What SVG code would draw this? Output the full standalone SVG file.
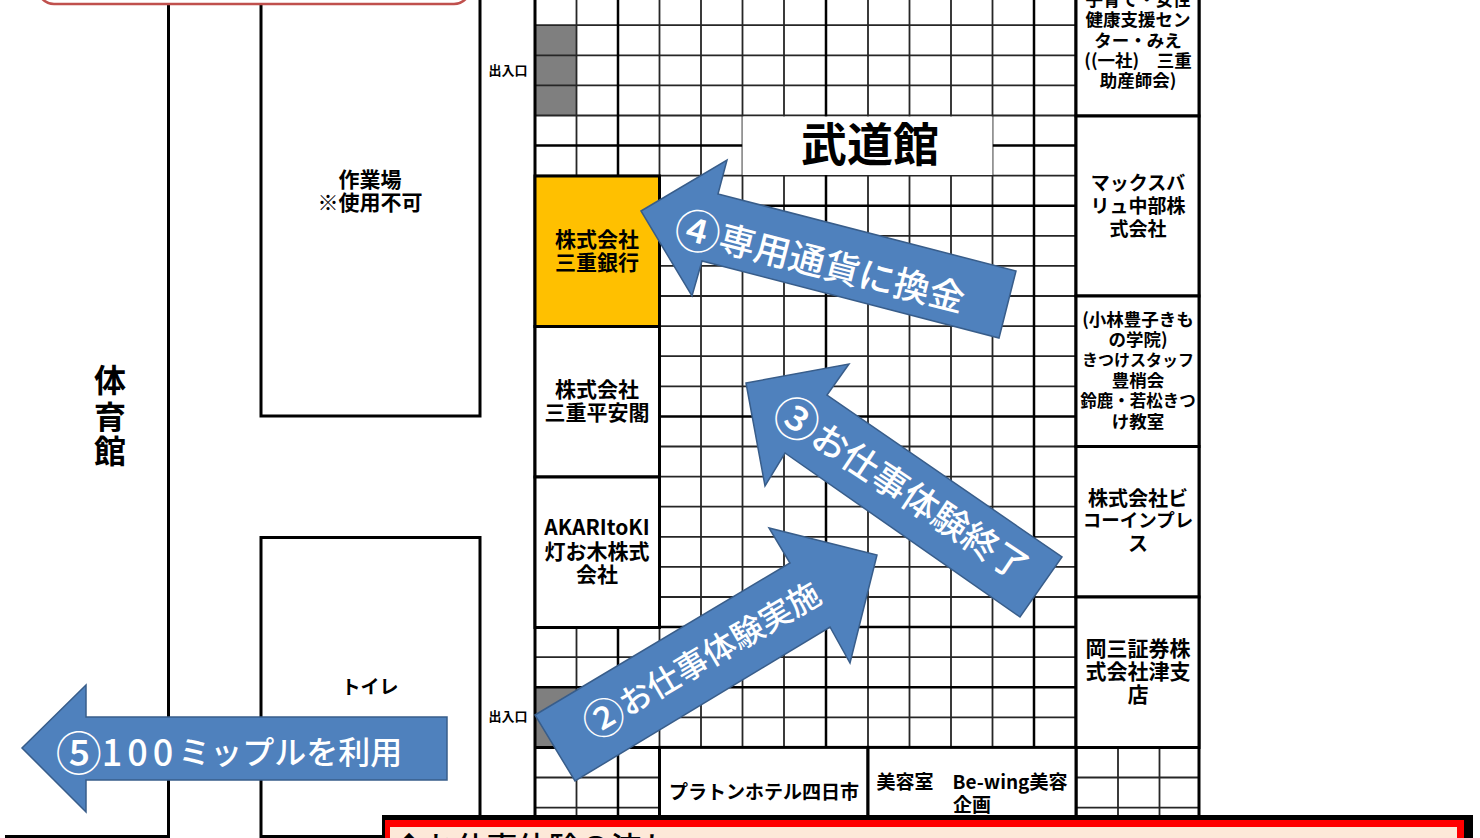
<svg xmlns="http://www.w3.org/2000/svg" width="1480" height="838" viewBox="0 0 1480 838">
<style>
text{font-family:"Noto Sans CJK JP","Liberation Sans",sans-serif;text-anchor:middle;dominant-baseline:central;fill:#000;font-weight:700}
.thin{fill:none;stroke:#262626;stroke-width:1.800}
.thick{fill:none;stroke:#000;stroke-width:3}
.box{fill:#fff;stroke:#000;stroke-width:3}
.gray{fill:#7f7f7f}
.arrow{fill:#4f81bd;stroke:#385d8a;stroke-width:1.500;stroke-linejoin:miter}
.al{fill:#fff;font-weight:500}
.s21{font-size:21px}
.s20{font-size:20px}
.s18{font-size:17.500px}
.s13{font-size:13px}
</style>
<rect width="1480" height="838" fill="#fff"/>
<g id="building-left">
<path class="thick" d="M168.500 0V836.500H5M261 0V416H480V0M261 838V537.500H480V815M261 836.500H383"/>
<rect x="38" y="-40" width="432" height="44" rx="16" fill="#fff" stroke="#c0504d" stroke-width="2.500"/>
</g>
<g id="grid">
<rect class="gray" x="535" y="25" width="41.500" height="90"/>
<rect class="gray" x="535" y="687" width="41.500" height="60"/>
<path class="thin" d="M576.500 0V815M659.500 0V747M701 0V747M742.500 0V747M784 0V747M868 0V747M909.500 0V747M951 0V747M992.500 0V747M1118 747V815M1159.500 747V815"/>
<path class="thin" d="M535 25.200H1076M535 55.300H1076M535 85.400H1076M535 115.500H1076M535 175.600H1076M535 235.800H1076M535 265.900H1076M535 296H1076M535 326.100H1076M535 356.200H1076M535 386.300H1076M535 446.500H1076M535 476.600H1076M535 506.700H1076M535 536.800H1076M535 566.900H1076M535 597H1076M535 657.200H1076M535 717.400H1076M535 777.500H659M535 807.700H659M1076 777.500H1199M1076 807.700H1199"/>
<path class="thick" style="stroke-width:2.500" d="M618 0V815M826 0V747M1034 0V747M535 145.500H1076M535 205.700H1076M535 416.400H1076M535 627.100H1076M535 687.300H1076"/>
<path class="thick" d="M535 0V815M1076 0V815M1199 0V815M535 747.400H1199"/>
</g>
<g id="budokan"><rect x="742.500" y="116.500" width="250" height="58.500" fill="#fff"/><text x="870" y="141" font-size="46">武道館</text></g>
<g id="gym"><text x="110" y="378" font-size="32">体</text><text x="110" y="415" font-size="32">育</text><text x="110" y="449" font-size="32">館</text></g>
<g id="workshop"><text class="s21" x="370" y="178">作業場</text><text class="s21" x="370" y="201">※使用不可</text></g>
<g id="toilet"><text x="370" y="685" font-size="19">トイレ</text></g>
<g id="entrance-upper"><text class="s13" x="508" y="69">出入口</text></g>
<g id="entrance-lower"><text class="s13" x="508" y="715">出入口</text></g>
<g id="bank"><rect x="535" y="176" width="124.500" height="150.500" fill="#ffc000" stroke="#000" stroke-width="3"/><text class="s21" x="597" y="238">株式会社</text><text class="s21" x="597" y="261">三重銀行</text></g>
<g id="heiankaku"><rect class="box" x="535" y="326.500" width="124.500" height="150.500"/><text class="s21" x="597" y="388">株式会社</text><text class="s21" x="597" y="411">三重平安閣</text></g>
<g id="akaritoki"><rect class="box" x="535" y="477" width="124.500" height="150.500"/><text class="s21" x="597" y="526">AKARItoKI</text><text class="s21" x="597" y="550">灯お木株式</text><text class="s21" x="597" y="573">会社</text></g>
<g id="platon"><rect class="box" x="659.500" y="747.400" width="208.500" height="70"/><text x="764" y="790" font-size="19">プラトンホテル四日市</text></g>
<g id="bewing"><rect class="box" x="868" y="747.400" width="208" height="70"/><text x="972" y="780" font-size="19">美容室　Be-wing美容</text><text x="972" y="803" font-size="19">企画</text></g>
<g id="mie-center"><rect class="box" x="1076" y="-30" width="123" height="146"/><text class="s18" x="1138" y="-2">子育て・女性</text><text class="s18" x="1138" y="18">健康支援セン</text><text class="s18" x="1138" y="39">ター・みえ</text><text class="s18" x="1138" y="59">((一社)　三重</text><text class="s18" x="1138" y="79">助産師会)</text></g>
<g id="maxvalu"><rect class="box" x="1076" y="116" width="123" height="180"/><text x="1138" y="181" font-size="19">マックスバ</text><text x="1138" y="204" font-size="19">リュ中部株</text><text x="1138" y="227" font-size="19">式会社</text></g>
<g id="kobayashi"><rect class="box" x="1076" y="296" width="123" height="150.500"/><text class="s18" x="1138" y="318">(小林豊子きも</text><text class="s18" x="1138" y="338">の学院)</text><text x="1138" y="359" font-size="16">きつけスタッフ</text><text class="s18" x="1138" y="379">豊梢会</text><text x="1138" y="400" font-size="16.500">鈴鹿・若松きつ</text><text class="s18" x="1138" y="420">け教室</text></g>
<g id="bcom"><rect class="box" x="1076" y="446.500" width="123" height="150.500"/><text class="s20" x="1138" y="497">株式会社ビ</text><text x="1138" y="519" font-size="18.500">コーインプレ</text><text class="s20" x="1138" y="542">ス</text></g>
<g id="okasan"><rect class="box" x="1076" y="597" width="123" height="150.500"/><text class="s21" x="1138" y="647">岡三証券株</text><text class="s21" x="1138" y="670">式会社津支</text><text class="s21" x="1138" y="693">店</text></g>
<g id="flow-panel">
<rect x="382" y="815" width="1091" height="40" fill="#000"/>
<rect x="385" y="820" width="1079" height="30" fill="#f00"/>
<rect x="390" y="827" width="1067" height="20" fill="#fde9d9"/>
<text x="533" y="845" font-size="31" style="font-weight:500">◆お仕事体験の流れ</text>
</g>
<g id="connectors">
<path class="arrow" d="M447 717V780H86V812L22 748L86 685V717Z"/>
<path class="arrow" d="M641 211L727 160L718 194L1016 271L999 338L702 261L692 296Z"/>
<path class="arrow" d="M746 383L849 364L827 395L1062 557L1020 617L785 453L765 486Z"/>
<path class="arrow" d="M535 715L790 563L769 528L877 555L850 663L830 627L575 781Z"/>
<text class="al" x="229" y="750" font-size="32"><tspan font-size="46">⑤</tspan><tspan font-size="36" letter-spacing="5">100</tspan>ミップルを利用</text>
<text class="al" x="820.600" y="260" font-size="36" transform="rotate(14.300 820.600 260)"><tspan font-size="46">④</tspan>専用通貨に換金</text>
<text class="al" x="903" y="486.500" font-size="36" transform="rotate(33.700 903 486.500)"><tspan font-size="46">③</tspan>お仕事体験終了</text>
<text class="al" x="700" y="657" font-size="32.500" transform="rotate(-30.600 700 657)"><tspan font-size="42">②</tspan>お仕事体験実施</text>
</g>
</svg>
